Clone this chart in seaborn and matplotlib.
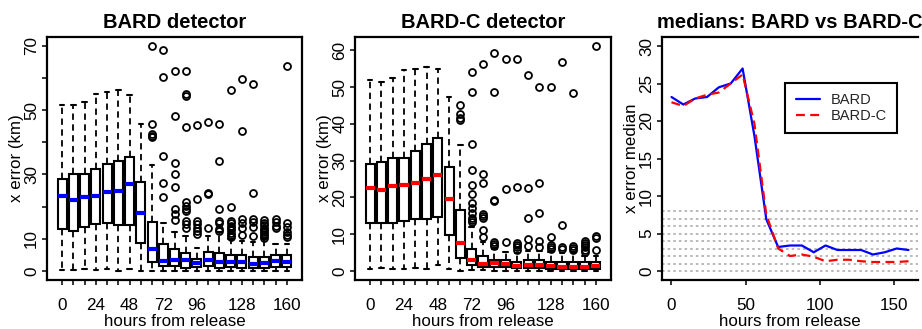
import matplotlib
matplotlib.use("Agg")
import matplotlib.pyplot as plt
import pandas as pd
import seaborn as sns

# ---------------- data ----------------
hours = [0, 8, 16, 24, 32, 40, 48, 56, 64, 72, 80, 88, 96, 104, 112, 120, 128, 136, 144, 152, 160]
label_hours = [0, 24, 48, 72, 96, 128, 160]

# BARD detector box statistics
bard_whislo = [0.3, 0.3, 0.5, 0.3, 0.5, 0.0, 0.5, 0.0, 0.0, 0.0, 0.0, 0.0, 0.0, 0.0, 0.0, 0.0, 0.0, 0.0, 0.0, 0.0, 0.0]
bard_q1 = [13.0, 12.5, 13.6, 14.6, 14.8, 14.2, 14.2, 8.6, 2.8, 1.6, 1.6, 1.0, 1.2, 1.5, 0.9, 1.1, 1.0, 0.8, 1.0, 1.2, 1.2]
bard_med = [23.2, 22.2, 23.0, 23.2, 24.5, 25.0, 27.0, 18.0, 6.9, 3.2, 3.4, 3.4, 2.5, 3.4, 2.8, 2.8, 2.8, 2.2, 2.5, 3.0, 2.8]
bard_q3 = [28.6, 30.2, 30.2, 31.6, 33.2, 34.3, 35.5, 27.5, 15.3, 8.4, 6.8, 5.7, 3.8, 5.8, 5.5, 4.9, 4.9, 4.2, 4.4, 4.9, 4.9]
bard_whishi = [51.6, 51.6, 52.4, 55.0, 55.7, 56.2, 54.8, 45.8, 33.0, 15.0, 12.0, 10.8, 7.0, 11.0, 12.0, 10.0, 9.4, 9.1, 9.9, 8.4, 8.4]
bard_fliers = [
    [], [], [], [], [], [], [], [],
    [69.8, 45.8, 42.5, 42.0, 41.6],
    [68.8, 60.4, 35.8, 27.2, 23.0],
    [62.0, 48.0, 33.4, 30.2, 26.2, 19.3, 17.6, 15.8],
    [62.0, 55.0, 54.4, 44.7, 21.3, 20.3, 19.3, 18.6, 15.6, 14.6, 13.4],
    [45.5, 22.3, 15.6, 14.6, 13.5, 12.5, 11.4],
    [46.3, 24.2, 23.8, 13.3],
    [45.8, 34.3, 19.4, 15.4, 14.9, 13.0, 12.4],
    [56.3, 19.9, 15.6, 14.8, 14.1, 13.4, 12.6, 11.8, 11.1, 10.6],
    [59.7, 43.6, 16.0, 14.8, 13.5, 11.1],
    [58.1, 24.3, 16.3, 15.1, 13.7, 10.9],
    [15.8, 14.9, 14.2, 13.5, 12.8, 12.1, 11.4, 10.8, 10.3],
    [16.1, 15.1, 14.0, 13.5],
    [63.7, 14.8, 13.6, 12.0, 11.1, 10.6],
]

# BARD-C detector box statistics
bardc_whislo = [0.5, 0.7, 0.5, 0.5, 0.7, 0.5, 1.6, 0.5, 0.1, 0.3, 0.2, 0.0, 0.0, 0.0, 0.0, 0.0, 0.0, 0.0, 0.0, 0.0, 0.0]
bardc_q1 = [13.1, 13.1, 13.1, 13.6, 14.0, 14.0, 14.7, 9.8, 3.6, 1.6, 1.2, 1.0, 1.0, 0.7, 0.7, 0.7, 0.5, 0.5, 0.5, 0.5, 0.5]
bardc_med = [22.5, 22.0, 23.0, 23.5, 23.8, 25.0, 26.2, 19.6, 7.5, 3.0, 2.0, 2.2, 1.9, 1.3, 1.5, 1.5, 1.3, 1.2, 1.2, 1.2, 1.3]
bardc_q3 = [29.2, 29.6, 30.7, 30.7, 32.6, 34.6, 36.2, 28.3, 16.5, 6.1, 4.1, 3.0, 3.0, 2.5, 3.0, 3.0, 2.5, 2.5, 2.5, 2.5, 2.5]
bardc_whishi = [51.8, 51.3, 52.4, 54.5, 54.9, 55.4, 54.9, 47.4, 34.3, 12.0, 8.0, 6.1, 5.2, 4.8, 5.4, 5.4, 5.2, 5.0, 5.2, 4.1, 4.1]
bardc_fliers = [
    [], [], [], [], [], [], [], [],
    [45.2, 42.6, 41.6, 41.1],
    [54.1, 48.7, 34.5, 27.4, 23.4, 21.0, 18.5, 17.0, 15.8, 14.5, 13.8, 13.3],
    [56.3, 26.4, 23.8, 15.6, 15.0, 14.4, 11.1, 9.3],
    [59.3, 48.7, 19.3, 18.9, 8.0, 7.4, 6.9],
    [57.7, 22.4, 7.8],
    [57.7, 22.8, 7.6, 7.0, 6.4, 5.8],
    [53.2, 22.6, 14.4, 8.8, 6.8],
    [50.1, 23.8, 15.8, 8.2, 6.5],
    [50.1, 9.2, 7.0, 6.5, 6.1],
    [56.7, 12.4, 6.5, 6.1],
    [48.3, 6.8, 6.2, 5.7],
    [8.2, 7.6, 7.0, 6.4, 5.8, 5.1],
    [61.2, 9.4, 8.9, 5.8],
]

ref_levels = [0, 1, 2, 3, 4, 5, 6, 7, 8]

# ---------------- style ----------------
sns.set_theme(style="ticks")
plt.rcParams['font.family'] = ['Liberation Sans', 'DejaVu Sans']

W, H = 922, 329
fig = plt.figure(figsize=(W / 100, H / 100), dpi=100)


def add_axes(l, r, t, b):
    return fig.add_axes([l / W, 1 - b / H, (r - l) / W, (b - t) / H])


ax1 = add_axes(47, 302, 37, 280)
ax2 = add_axes(355, 611, 37, 280)
ax3 = add_axes(662, 918, 37, 280)

TICK_FS = 12.3
LAB_FS = 12.2
TITLE_FS = 14.5
XLAB_PAD = 1.0
YLAB_PAD = 0.3


def make_stats(lo, q1, med, q3, hi, fl):
    return [dict(whislo=a, q1=b, med=c, q3=d, whishi=e, fliers=f)
            for a, b, c, d, e, f in zip(lo, q1, med, q3, hi, fl)]


def style_axes(ax):
    for s in ax.spines.values():
        s.set_color('black')
        s.set_linewidth(1.6)
    ax.tick_params(axis='both', which='both', direction='out', length=3.6, width=1.1,
                   color='black', labelcolor='black', labelsize=TICK_FS,
                   bottom=True, left=True, top=False, right=False)
    ax.tick_params(axis='x', pad=9.0)
    ax.tick_params(axis='y', pad=2.0)
    for lab in ax.get_yticklabels():
        lab.set_rotation(90)
        lab.set_va('center')


def draw_boxes(ax, st, medcol, ylim, yticks, ylabels_shown, title):
    ax.bxp(st, positions=list(range(len(st))), widths=0.8, capwidths=0.4,
           patch_artist=True, manage_ticks=False,
           boxprops=dict(facecolor='white', edgecolor='black', linewidth=1.5),
           medianprops=dict(color=medcol, linewidth=3.0, solid_capstyle='butt'),
           whiskerprops=dict(color='black', linewidth=1.3, linestyle=(0, (3.5, 2.5))),
           capprops=dict(color='black', linewidth=1.5),
           flierprops=dict(marker='o', markerfacecolor='none', markeredgecolor='black',
                           markersize=5.0, markeredgewidth=1.3))
    ax.set_xlim(-1.34, len(st) - 1 + 1.34)
    ax.set_ylim(*ylim)
    ax.set_xticks(list(range(len(hours))))
    ax.set_xticklabels([str(h) if h in label_hours else '' for h in hours])
    ax.set_yticks(yticks)
    ax.set_yticklabels([str(v) if v in ylabels_shown else '' for v in yticks])
    ax.set_xlabel('hours from release', fontsize=LAB_FS, labelpad=XLAB_PAD, color='black')
    ax.set_ylabel('x error (km)', fontsize=LAB_FS, labelpad=YLAB_PAD, color='black')
    ax.set_title(title, fontsize=TITLE_FS, fontweight='bold', pad=6.5, color='black')
    style_axes(ax)


draw_boxes(ax1, make_stats(bard_whislo, bard_q1, bard_med, bard_q3, bard_whishi, bard_fliers),
           'blue', (-2.8, 72.7), [0, 10, 20, 30, 40, 50, 60, 70], [0, 10, 30, 50, 70],
           'BARD detector')
draw_boxes(ax2, make_stats(bardc_whislo, bardc_q1, bardc_med, bardc_q3, bardc_whishi, bardc_fliers),
           'red', (-2.45, 63.6), [0, 10, 20, 30, 40, 50, 60], [0, 10, 20, 30, 40, 50, 60],
           'BARD-C detector')

# ---------------- medians panel ----------------
for lv in ref_levels:
    ax3.axhline(lv, color='#b8b8b8', linewidth=1.4, linestyle=(0, (1.3, 1.6)), zorder=1)

df = pd.DataFrame({'hours': hours, 'BARD': bard_med, 'BARD-C': bardc_med})
sns.lineplot(data=df, x='hours', y='BARD', ax=ax3, color='blue', linewidth=1.6,
             label='BARD', zorder=3)
sns.lineplot(data=df, x='hours', y='BARD-C', ax=ax3, color='red', linewidth=1.6,
             label='BARD-C', zorder=4, dashes=False)
ax3.lines[-1].set_linestyle((0, (4, 2.4)))

ax3.set_xlim(-6.4, 166.4)
ax3.set_ylim(-1.2, 31.2)
ax3.set_xticks([0, 50, 100, 150])
ax3.set_yticks([0, 5, 10, 15, 20, 25, 30])
ax3.set_xlabel('hours from release', fontsize=LAB_FS, labelpad=XLAB_PAD, color='black')
ax3.set_ylabel('x error median', fontsize=LAB_FS, labelpad=YLAB_PAD, color='black')
ax3.set_title('medians: BARD vs BARD-C', fontsize=TITLE_FS, fontweight='bold', pad=6.5,
              color='black')
style_axes(ax3)
ax3.spines['right'].set_visible(False)

leg = ax3.legend(loc='upper right', bbox_to_anchor=(0.918, 0.81), borderaxespad=0,
                 fontsize=10.5, frameon=True, fancybox=False, framealpha=1,
                 edgecolor='black', handlelength=1.7, handletextpad=0.7,
                 labelspacing=0.1, borderpad=0.7)
leg.get_frame().set_linewidth(1.5)
leg.get_lines()[1].set_linestyle((0, (4, 2.4)))

fig.savefig('out.png', dpi=100)
